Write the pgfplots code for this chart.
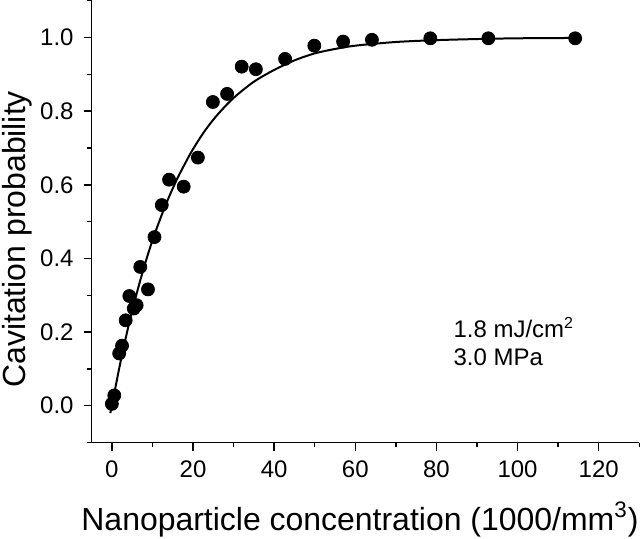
\documentclass[border=0pt]{standalone}
\usepackage{fontspec}
\setmainfont{Liberation Sans}
\usepackage{pgfplots}
\pgfplotsset{compat=1.18}

\begin{document}
\begin{tikzpicture}
\begin{axis}[
    scale only axis,
    width=274.15pt, height=221.15pt,
    xmin=-5, xmax=130,
    ymin=-0.1, ymax=1.1,
    axis x line*=bottom,
    axis y line*=left,
    axis line style={-, line width=0.75pt},
    tick align=outside,
    major tick length=4pt,
    minor tick length=2.2pt,
    every tick/.style={black, line width=0.7pt},
    xtick={0,20,...,120},
    ytick={0,0.2,...,1.0},
    minor xtick={10,30,...,130},
    minor ytick={-0.1,0.1,0.3,...,1.1},
    /pgf/number format/assume math mode=true,
    ticklabel style={font=\fontsize{12}{14}\selectfont},
    yticklabel style={xshift=-1.5pt, /pgf/number format/.cd, fixed, fixed zerofill, precision=1},
    xticklabel style={yshift=-1.5pt},
    xlabel={Nanoparticle concentration (1000/mm\textsuperscript{3})},
    ylabel={Cavitation probability},
    label style={font=\fontsize{16}{19}\selectfont, inner sep=0pt},
    xlabel style={at={(axis description cs:0.49,-0.214)}, anchor=south},
    ylabel style={at={(axis description cs:-0.163,0.46)}, anchor=north},
    clip=false,
]
% fitted curve
\addplot[black, line width=1pt, smooth] coordinates {
(-0.4,-0.02)(0,0)(2,0.112)(4,0.212)(6,0.300)(8,0.379)(10,0.449)(12,0.510)
(14,0.565)(16,0.614)(18,0.657)(20,0.697)(23,0.748)(26,0.790)(30,0.836)
(35,0.880)(40,0.912)(45,0.938)(50,0.957)(55,0.969)(60,0.978)(70,0.988)
(80,0.993)(90,0.996)(100,0.998)(115,0.999)
};
% measured points
\addplot[only marks, mark=*, mark size=3.25pt, black] coordinates {
(0,0.005)(0.6,0.028)(1.8,0.142)(2.5,0.163)(3.4,0.232)(4.3,0.298)
(5.4,0.264)(6.1,0.273)(7.0,0.377)(8.9,0.316)(10.5,0.458)(12.3,0.545)
(14.1,0.614)(17.7,0.595)(21.2,0.674)(24.9,0.825)(28.4,0.847)(32.0,0.921)
(35.5,0.914)(42.7,0.942)(49.9,0.978)(57.0,0.989)(64.1,0.994)(78.5,0.998)
(92.8,0.998)(114.2,0.998)
};
\node[anchor=base west, font=\fontsize{12}{14}\selectfont] at (axis cs:82.5,0.185) {1.8 mJ/cm\textsuperscript{2}};
\node[anchor=base west, font=\fontsize{12}{14}\selectfont] at (axis cs:82.5,0.109) {3.0 MPa};
\end{axis}
\path (current axis.south west) ++(-45.85pt,-47.85pt) rectangle ++(320pt,269pt);
\end{tikzpicture}
\end{document}
